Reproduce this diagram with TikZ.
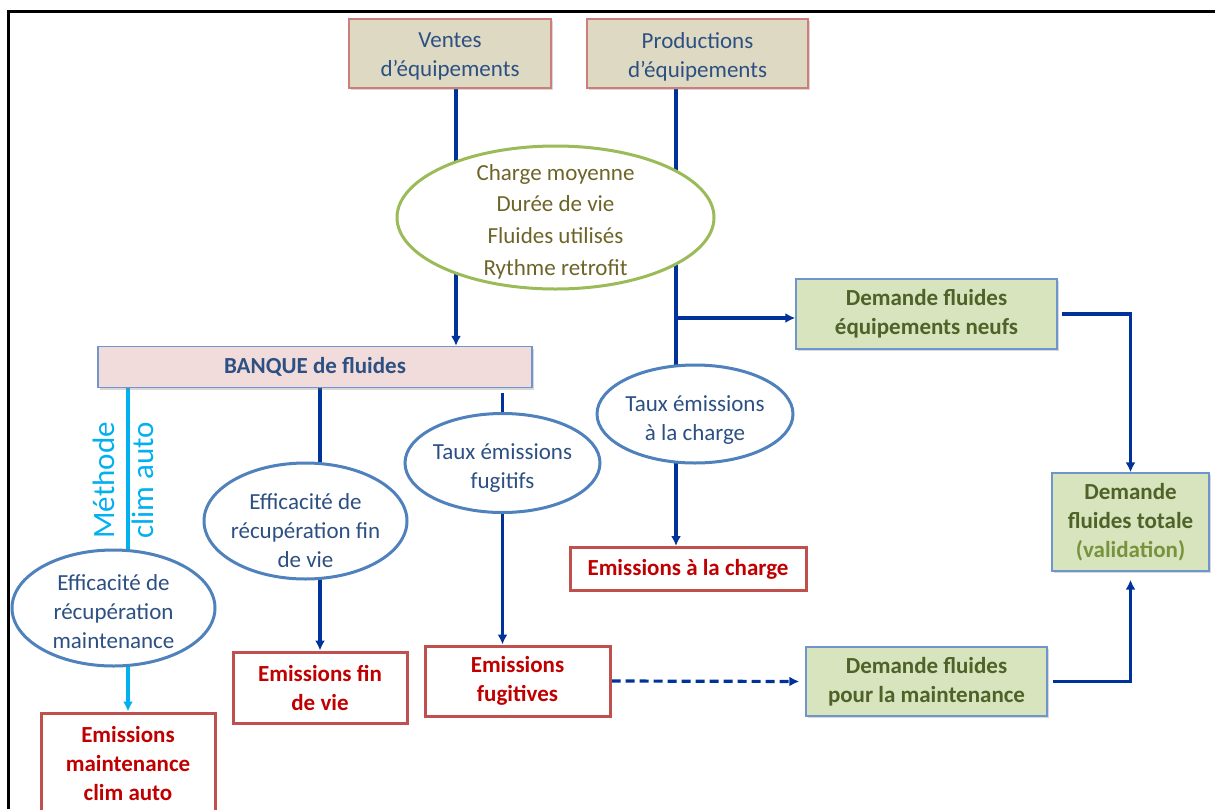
\documentclass[tikz,border=0pt]{standalone}
\usepackage{fontspec}
\setmainfont{Carlito}
\usepackage{tikz}
\usetikzlibrary{shapes,arrows.meta,shadows,backgrounds}

\definecolor{flowblue}{RGB}{0,51,153}
\definecolor{climcyan}{RGB}{0,176,240}
\definecolor{ellblue}{RGB}{79,129,189}
\definecolor{txtblue}{RGB}{45,80,130}
\definecolor{topbeige}{RGB}{221,217,195}
\definecolor{toprose}{RGB}{205,125,122}
\definecolor{bankpink}{RGB}{242,220,219}
\definecolor{bankline}{RGB}{110,150,205}
\definecolor{carlgreen}{RGB}{155,187,89}
\definecolor{caroltxt}{RGB}{110,100,40}
\definecolor{redline}{RGB}{192,80,77}
\definecolor{redtxt}{RGB}{192,0,0}
\definecolor{greenfill}{RGB}{215,228,189}
\definecolor{greentxt}{RGB}{79,98,40}
\definecolor{validtxt}{RGB}{119,147,60}

\begin{document}
\begin{tikzpicture}[x=1pt,y=-1pt,
  every node/.style={font=\fontsize{23}{29}\selectfont},
  topbox/.style={rectangle, draw=toprose, line width=1.4pt, fill=topbeige,
    inner sep=0pt,
    drop shadow={opacity=.3,shadow xshift=1.5pt,shadow yshift=-2pt}},
  bankbox/.style={rectangle, draw=bankline, line width=1.2pt, fill=bankpink,
    text=txtblue, inner sep=0pt, font=\fontsize{23}{29}\selectfont\bfseries,
    drop shadow={opacity=.3,shadow xshift=1.5pt,shadow yshift=-2pt}},
  greenbox/.style={rectangle, draw=bankline, line width=1.4pt, fill=greenfill,
    text=greentxt, align=center, inner sep=0pt,
    font=\fontsize{23}{29}\selectfont\bfseries,
    drop shadow={opacity=.3,shadow xshift=1.5pt,shadow yshift=-2pt}},
  redbox/.style={rectangle, draw=redline, line width=3pt, fill=white,
    text=redtxt, align=center, inner sep=0pt,
    font=\fontsize{23}{29}\selectfont\bfseries},
  param/.style={ellipse, draw=ellblue, line width=3pt, fill=white, inner sep=0pt},
  ptext/.style={text=txtblue, align=center},
  flow/.style={draw=flowblue, line width=3.2pt},
  climflow/.style={draw=climcyan, line width=3.2pt},
  tip/.style={-{Latex[length=10pt,width=10pt]}},
  rotlbl/.style={rotate=90, text=climcyan, font=\fontsize{31}{36}\selectfont}
]
\useasboundingbox (0,0) rectangle (1215,809);

% frame
\draw[line width=3pt] (8,809) -- (8,11.5) -- (1215,11.5);

% sources
\node[topbox, minimum width=202pt, minimum height=69pt] (ventes) at (450,53.5) {};
\node[ptext] (ventestxt) at ([yshift=-3pt]ventes.center) {Ventes\\d'équipements};
\node[topbox, minimum width=221pt, minimum height=69pt] (prod) at (697.5,53.5) {};
\node[ptext] (prodtxt) at ([yshift=-3pt]prod.center) {Productions\\d'équipements};

% parc characteristics
\node[ellipse, draw=carlgreen, line width=3pt, fill=white, inner sep=0pt,
  minimum width=317pt, minimum height=143pt] (carac) at (555.5,217.5) {};
\node[text=caroltxt, align=center, font=\fontsize{23}{31.7}\selectfont]
  (caractxt) at ([yshift=-4pt]carac.center)
  {Charge moyenne\\Durée de vie\\Fluides utilisés\\Rythme retrofit};

\node[bankbox, minimum width=434pt, minimum height=41pt] (banque) at (315,367)
  {BANQUE de fluides};

% rates
\node[param, minimum width=203pt, minimum height=116pt] (effmaint) at (113.5,608) {};
\node[ptext] (effmainttxt) at ([yshift=-3.5pt]effmaint.center)
  {Efficacité de\\récupération\\maintenance};
\node[param, minimum width=203pt, minimum height=116pt] (efffin) at (305.5,521) {};
\node[ptext] (efffintxt) at ([yshift=-10pt]efffin.center)
  {Efficacité de\\récupération fin\\de vie};
\node[param, minimum width=195pt, minimum height=99pt] (tauxfug) at (502.5,463) {};
\node[ptext] (tauxfugtxt) at ([yshift=-5pt]tauxfug.center) {Taux émissions\\fugitifs};
\node[param, minimum width=196pt, minimum height=98pt] (tauxcharge) at (695,414) {};
\node[ptext] (tauxchargetxt) at ([yshift=-6pt]tauxcharge.center)
  {Taux émissions\\à la charge};

% emissions
\node[redbox, minimum width=174pt, minimum height=102pt] (emaint) at (128,764)
  {Emissions\\maintenance\\clim auto};
\node[redbox, minimum width=174pt, minimum height=71pt] (efin) at (320,687.5)
  {Emissions fin\\de vie};
\node[redbox, minimum width=185pt, minimum height=70pt] (efug) at (517.5,681)
  {Emissions\\fugitives};
\node[redbox, minimum width=236pt, minimum height=43pt] (echarge) at (688,569)
  {Emissions à la charge};

% demand
\node[greenbox, minimum width=261pt, minimum height=70pt] (neufs) at (926.5,314)
  {Demande fluides\\équipements neufs};
\node[greenbox, minimum width=157pt, minimum height=98pt] (total) at (1130.5,522)
  {Demande\\fluides totale\\{\color{validtxt}(validation)}};
\node[greenbox, minimum width=241pt, minimum height=69pt] (maintd) at (926.5,681.5)
  {Demande fluides\\pour la maintenance};

\coordinate (vl) at ([xshift=6pt]ventes.south);
\coordinate (pl) at ([xshift=-21.5pt]prod.south);
\coordinate (branch) at ([yshift=-4pt]neufs.west);

\begin{scope}[on background layer]
\fill[white] (0,0) rectangle (1215,809);
\draw[flow, tip] (vl) -- (vl |- banque.north);
\draw[flow] (pl) -- (pl |- tauxcharge.center);
\draw[flow, tip] (pl |- tauxcharge.center) -- (pl |- echarge.north);
\draw[flow, tip] (pl |- branch) -- (branch);
\draw[flow, tip, shorten <=4pt] (neufs.east) -| (total.north);
\draw[flow, tip, shorten <=5pt, shorten >=8pt] (maintd.east) -| (total.south);
\draw[flow, tip, dash pattern=on 9pt off 5pt, shorten >=6pt] (efug.east) -- (maintd.west);
\draw[flow] ([yshift=-5pt]banque.south -| tauxfug.north) -- (tauxfug.center);
\draw[flow, tip] (tauxfug.center) -- (tauxfug.center |- efug.north);
\draw[flow] (banque.south -| efin.north) -- (efin.north |- efffin.center);
\draw[flow, tip] (efin.north |- efffin.center) -- (efin.north);
\draw[climflow] (banque.south -| emaint.north) --
  node[rotlbl, pos=.42, anchor=south, inner sep=12pt] (methode) {Méthode}
  node[rotlbl, pos=.42, anchor=north, inner sep=2pt] (climauto) {clim auto}
  (emaint.north |- effmaint.center);
\draw[climflow, tip] (emaint.north |- effmaint.center) -- (emaint.north);
\end{scope}
\end{tikzpicture}
\end{document}
